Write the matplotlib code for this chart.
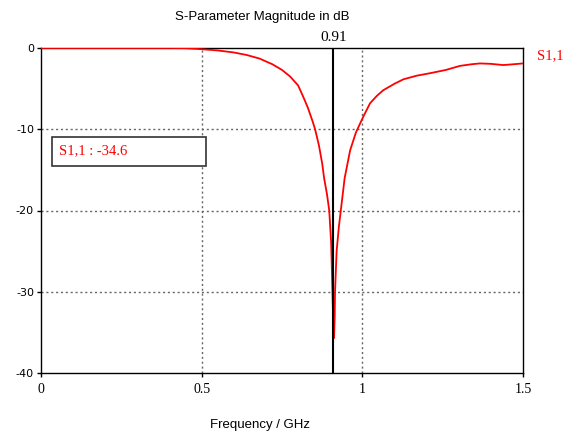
import matplotlib
matplotlib.use("Agg")
import matplotlib.pyplot as plt
from matplotlib.patches import Rectangle

freq_ghz = [0, 0.1, 0.2, 0.3, 0.4, 0.45, 0.5, 0.55, 0.6, 0.64, 0.68, 0.72, 0.75, 0.775,
            0.8, 0.816, 0.83, 0.845, 0.853, 0.865, 0.875, 0.881, 0.89, 0.897, 0.903,
            0.907, 0.910, 0.912, 0.914, 0.915, 0.92, 0.927, 0.933, 0.945, 0.962, 0.98,
            1.003, 1.024, 1.045, 1.065, 1.1, 1.128, 1.17, 1.211, 1.26, 1.304, 1.34,
            1.366, 1.4, 1.439, 1.47, 1.5]
s11_db = [0, 0, 0, 0, 0, -0.02, -0.15, -0.3, -0.55, -0.86, -1.3, -2.0, -2.7, -3.5,
          -4.6, -6.0, -7.3, -9.0, -10.0, -12.0, -14.2, -16.0, -18.0, -20.0, -24.0,
          -30.0, -34.6, -35.7, -33.0, -30.0, -25.0, -22.0, -20.0, -16.0, -12.6, -10.4,
          -8.45, -6.8, -5.9, -5.2, -4.4, -3.85, -3.4, -3.1, -2.7, -2.2, -2.0,
          -1.9, -1.95, -2.1, -2.0, -1.9]
x_ticks = [0, 0.5, 1, 1.5]
x_tick_labels = ["0", "0.5", "1", "1.5"]
y_ticks = [0, -10, -20, -30, -40]
y_tick_labels = ["0", "-10", "-20", "-30", "-40"]
marker_freq = 0.91
marker_value = -34.6
series_name = "S1,1"
title = "S-Parameter Magnitude in dB"
xlabel = "Frequency / GHz"

fig = plt.figure(figsize=(5.65, 4.34), dpi=100)
ax = fig.add_axes([41/565, 1-373/434, (523-41)/565, (373-48)/434])
ax.plot(freq_ghz, s11_db, color="#ff0000", lw=1.3, zorder=3)
ax.set_xlim(0, 1.5)
ax.set_ylim(-40, 0)

for xv in [0.5, 1.0]:
    ax.axvline(xv, color="#666666", lw=1, ls=(0, (1.5, 2)), zorder=1)
for yv in [-10, -20, -30]:
    ax.axhline(yv, color="#666666", lw=1, ls=(0, (1.5, 2)), zorder=1)

ax.axvline(marker_freq, color="black", lw=1.5, zorder=4)
ax.text(marker_freq, 0.5, f"{marker_freq:.2f}", ha="center", va="bottom",
        family="Liberation Serif", fontsize=11, clip_on=False)

ax.set_xticks(x_ticks)
ax.set_xticklabels(x_tick_labels, family="Liberation Serif", fontsize=10)
ax.set_yticks(y_ticks)
ax.set_yticklabels(y_tick_labels, family="DejaVu Sans", fontsize=8)
ax.tick_params(length=3, width=1, color="black", pad=2)
ax.tick_params(axis="x", pad=4)
for s in ax.spines.values():
    s.set_color("black")
    s.set_linewidth(1)

fig.text(262/565, 1-17/434, title, ha="center", va="center", fontsize=9.5, family="Liberation Sans")
fig.text(260/565, 1-425/434, xlabel, ha="center", va="center", fontsize=9.5, family="Liberation Sans")
fig.text(537/565, 1-56/434, series_name, ha="left", va="center", fontsize=10.5,
         family="Liberation Serif", color="#ff0000")

fig.patches.append(Rectangle((52/565, 1-166/434), (206-52)/565, (166-137)/434,
                             transform=fig.transFigure, fill=True, facecolor="white",
                             edgecolor="#333333", lw=1.2, zorder=5))
fig.text(59/565, 1-151/434, f"{series_name} : {marker_value}", ha="left", va="center",
         fontsize=10.5, family="Liberation Serif", color="#ff0000", zorder=6)

fig.savefig("out.png", dpi=100)
